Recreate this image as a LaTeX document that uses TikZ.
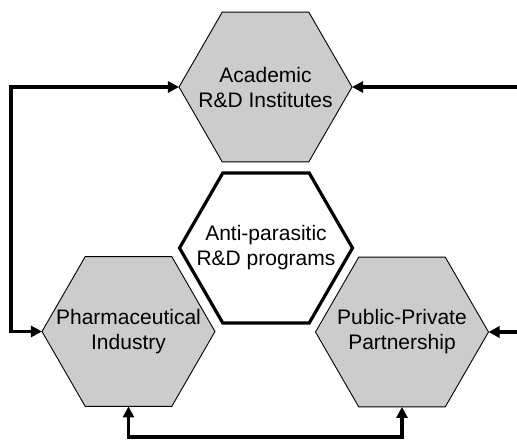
\documentclass[tikz,border=0pt]{standalone}
\usepackage{fontspec}
\setmainfont{Liberation Sans}
\usetikzlibrary{shapes.geometric,arrows.meta}
\begin{document}
\begin{tikzpicture}[x=1pt,y=1pt,
  hexbox/.style={regular polygon, regular polygon sides=6, minimum size=173pt,
    inner sep=0pt, outer sep=0pt, draw=black, line width=0.9pt, fill=black!20},
  corebox/.style={hexbox, fill=white, line width=3.2pt},
  hextext/.style={font=\fontsize{21}{25}\selectfont, align=center, inner sep=0pt},
  link/.style={line width=3.4pt, arrows={-Triangle[length=11pt,width=11pt]}},
  twoway/.style={line width=3.4pt, arrows={Triangle[length=11pt,width=11pt]-Triangle[length=11pt,width=11pt]}}
]
\useasboundingbox (0,0) rectangle (517,440);

% the four actors
\node[hexbox, label={[hextext]center:Academic\\R\&D Institutes}] (acad) at (265.5,353) {};
\node[corebox, label={[hextext]center:Anti-parasitic\\R\&D programs}] (core) at (266,192) {};
\node[hexbox, label={[hextext]center:Pharmaceutical\\Industry}] (pharma) at (128.5,108.5) {};
\node[hexbox, label={[hextext]center:Public-Private\\Partnership}] (ppp) at (402,108) {};

% routing points for the loops
\coordinate (leftx) at (11,0);
\coordinate (bottomy) at (0,3);
\coordinate (inA) at (517,353);
\coordinate (inP) at (517,108);

% connectors
\draw[twoway] (pharma.west) -- (pharma.west -| leftx) |- (acad.west);
\draw[twoway] (pharma.south) -- (pharma.south |- bottomy) -| (ppp.south);
\draw[link] (inA) -- (acad.east);
\draw[link] (inP) -- (ppp.east);
\end{tikzpicture}
\end{document}
